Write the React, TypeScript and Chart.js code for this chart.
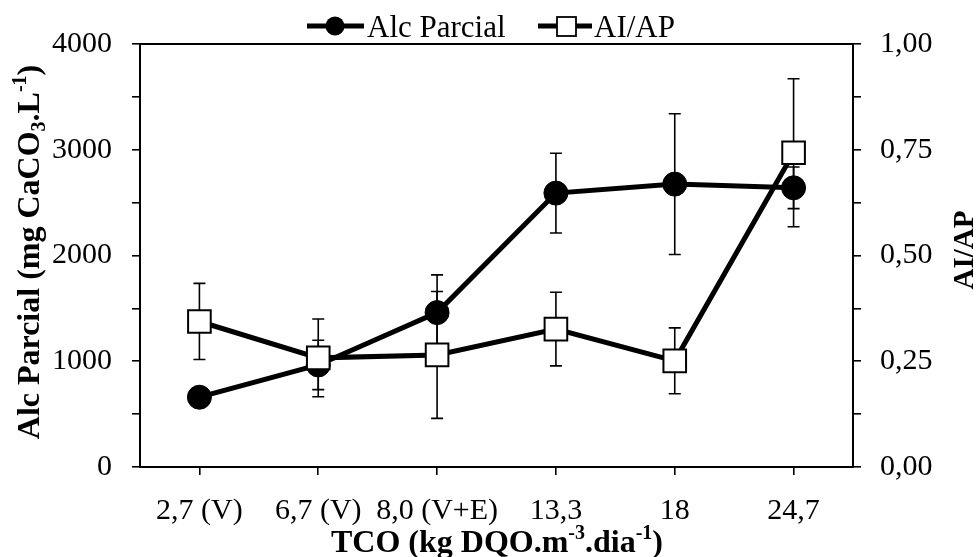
import React, { useEffect, useRef } from 'react';
import { Chart, registerables } from 'chart.js';

Chart.register(...registerables);

const FONT = "'Liberation Serif', 'Times New Roman', serif";

const categories = ['2,7 (V)', '6,7 (V)', '8,0 (V+E)', '13,3', '18', '24,7'];
const alcParcial = [660, 965, 1460, 2590, 2675, 2640];
const alcParcialErr = [40, 233, 357, 377, 665, 197];
const aiAp = [0.344, 0.258, 0.265, 0.326, 0.251, 0.743];
const aiApErr = [0.09, 0.092, 0.15, 0.087, 0.078, 0.175];

const leftMax = 4000;
const leftStep = 500;
const rightMax = 1;
const rightStep = 0.125;

type Part = { t: string; s?: 'sup' | 'sub' };

function drawRich(ctx: CanvasRenderingContext2D, parts: Part[], cx: number, cy: number, size: number, rot: number) {
  ctx.save();
  ctx.translate(cx, cy);
  ctx.rotate(rot);
  const main = `bold ${size}px ${FONT}`;
  const small = `bold ${Math.round(size * 0.62)}px ${FONT}`;
  let total = 0;
  const widths = parts.map((p) => {
    ctx.font = p.s ? small : main;
    const w = ctx.measureText(p.t).width;
    total += w;
    return w;
  });
  let x = -total / 2;
  ctx.textBaseline = 'alphabetic';
  ctx.textAlign = 'left';
  ctx.fillStyle = '#000';
  const base = size * 0.33;
  parts.forEach((p, i) => {
    ctx.font = p.s ? small : main;
    const dy = p.s === 'sup' ? -size * 0.38 : p.s === 'sub' ? size * 0.2 : 0;
    ctx.fillText(p.t, x, base + dy);
    x += widths[i];
  });
  ctx.restore();
}

const errorBarPlugin = {
  id: 'errorBars',
  beforeDatasetsDraw(chart: any) {
    const ctx = chart.ctx as CanvasRenderingContext2D;
    const errs = [alcParcialErr, aiApErr];
    ctx.save();
    ctx.strokeStyle = '#000';
    ctx.lineWidth = 1.6;
    chart.data.datasets.forEach((ds: any, di: number) => {
      const meta = chart.getDatasetMeta(di);
      const scale = chart.scales[ds.yAxisID];
      ds.data.forEach((v: number, i: number) => {
        const e = errs[di][i];
        const x = meta.data[i].x;
        const yTop = scale.getPixelForValue(v + e);
        const yBot = scale.getPixelForValue(v - e);
        const cap = 6;
        ctx.beginPath();
        ctx.moveTo(x, yTop);
        ctx.lineTo(x, yBot);
        ctx.moveTo(x - cap, yTop);
        ctx.lineTo(x + cap, yTop);
        ctx.moveTo(x - cap, yBot);
        ctx.lineTo(x + cap, yBot);
        ctx.stroke();
      });
    });
    ctx.restore();
  },
};

const decorPlugin = {
  id: 'decor',
  afterDraw(chart: any) {
    const ctx = chart.ctx as CanvasRenderingContext2D;
    const a = chart.chartArea;
    ctx.save();
    ctx.strokeStyle = '#000';
    ctx.lineWidth = 2;
    ctx.strokeRect(a.left, a.top, a.right - a.left, a.bottom - a.top);

    // legend
    ctx.lineWidth = 5;
    ctx.beginPath();
    ctx.moveTo(307, 26);
    ctx.lineTo(364, 26);
    ctx.stroke();
    ctx.fillStyle = '#000';
    ctx.beginPath();
    ctx.arc(335, 26, 9.5, 0, Math.PI * 2);
    ctx.fill();
    ctx.beginPath();
    ctx.moveTo(538, 26);
    ctx.lineTo(592, 26);
    ctx.stroke();
    ctx.fillStyle = '#fff';
    ctx.lineWidth = 1.8;
    ctx.fillRect(557, 17, 19, 19);
    ctx.strokeRect(557, 17, 19, 19);
    ctx.fillStyle = '#000';
    ctx.font = `31px ${FONT}`;
    ctx.textBaseline = 'alphabetic';
    ctx.textAlign = 'left';
    ctx.fillText('Alc Parcial', 367, 37);
    ctx.fillText('AI/AP', 594, 37);
    ctx.restore();

    drawRich(
      ctx,
      [{ t: 'Alc Parcial (mg CaCO' }, { t: '3', s: 'sub' }, { t: '.L' }, { t: '-1', s: 'sup' }, { t: ')' }],
      28,
      252,
      32,
      -Math.PI / 2
    );
    drawRich(
      ctx,
      [{ t: 'TCO (kg DQO.m' }, { t: '-3', s: 'sup' }, { t: '.dia' }, { t: '-1', s: 'sup' }, { t: ')' }],
      497,
      541,
      32,
      0
    );
    drawRich(ctx, [{ t: 'AI/AP' }], 963, 250, 29, -Math.PI / 2);
  },
};

export default function App() {
  const ref = useRef<HTMLCanvasElement | null>(null);
  useEffect(() => {
    if (!ref.current) return;
    const chart = new Chart(ref.current, {
      type: 'line',
      data: {
        labels: categories,
        datasets: [
          {
            label: 'Alc Parcial',
            data: alcParcial,
            yAxisID: 'y',
            borderColor: '#000',
            backgroundColor: '#000',
            borderWidth: 5,
            pointStyle: 'circle',
            pointRadius: 12,
            pointBorderWidth: 1,
            pointBackgroundColor: '#000',
            pointBorderColor: '#000',
            tension: 0,
            order: 1,
          },
          {
            label: 'AI/AP',
            data: aiAp,
            yAxisID: 'y1',
            borderColor: '#000',
            backgroundColor: '#fff',
            borderWidth: 5,
            pointStyle: 'rect',
            pointRadius: 16,
            pointBorderWidth: 2,
            pointBackgroundColor: '#fff',
            pointBorderColor: '#000',
            tension: 0,
            order: 0,
          },
        ],
      },
      options: {
        responsive: false,
        animation: false,
        events: [],
        layout: { padding: { top: 44, left: 0, right: 0, bottom: 0 } },
        plugins: { legend: { display: false }, tooltip: { enabled: false }, title: { display: false } },
        scales: {
          x: {
            type: 'category',
            offset: true,
            grid: { offset: false, drawOnChartArea: false, drawTicks: true, tickLength: 8, color: '#000', lineWidth: 1.6 },
            border: { display: false },
            ticks: { color: '#000', font: { family: FONT, size: 30 }, padding: 18, maxRotation: 0, autoSkip: false },
            afterFit: (s: any) => { s.height = 90; },
          },
          y: {
            type: 'linear',
            position: 'left',
            min: 0,
            max: leftMax,
            grid: { drawOnChartArea: false, drawTicks: true, tickLength: 8, color: '#000', lineWidth: 1.6 },
            border: { display: false },
            ticks: {
              stepSize: leftStep,
              color: '#000',
              font: { family: FONT, size: 30 },
              padding: 20,
              autoSkip: false,
              callback: (v: any) => (Number(v) % 1000 === 0 ? String(v) : ''),
            },
            afterFit: (s: any) => { s.width = 140; },
          },
          y1: {
            type: 'linear',
            position: 'right',
            min: 0,
            max: rightMax,
            grid: { drawOnChartArea: false, drawTicks: true, tickLength: 8, color: '#000', lineWidth: 1.6 },
            border: { display: false },
            ticks: {
              stepSize: rightStep,
              color: '#000',
              font: { family: FONT, size: 30 },
              padding: 19,
              autoSkip: false,
              callback: (v: any) => {
                const n = Number(v);
                return Math.round(n * 1000) % 250 === 0 ? n.toFixed(2).replace('.', ',') : '';
              },
            },
            afterFit: (s: any) => { s.width = 124; },
          },
        },
      },
      plugins: [errorBarPlugin, decorPlugin],
    });
    return () => chart.destroy();
  }, []);
  return (
    <div style={{ position: 'fixed', left: 0, top: 0, width: 977, height: 557, background: '#fff' }}>
      <canvas ref={ref} width={977} height={557} style={{ display: 'block' }} />
    </div>
  );
}
